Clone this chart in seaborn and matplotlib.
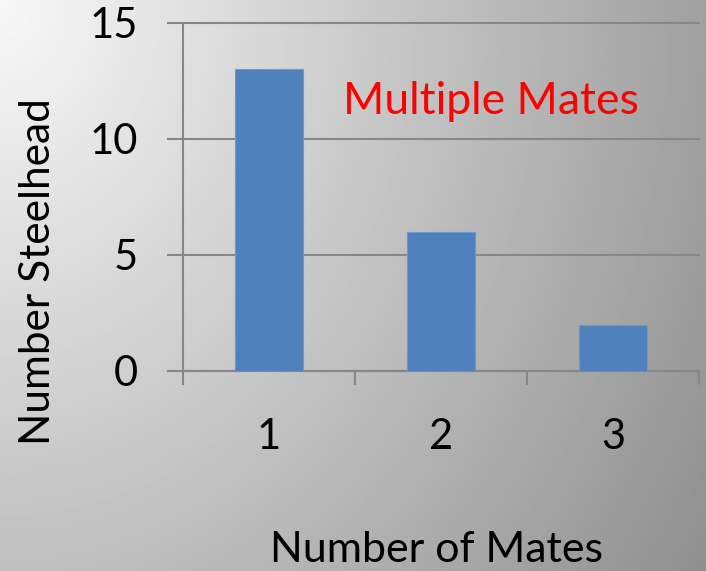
import numpy as np
import pandas as pd
import matplotlib
matplotlib.use("Agg")
import matplotlib.pyplot as plt
import seaborn as sns

# Counts of steelhead by number of mates
mates = ["1", "2", "3"]
steelhead = [13, 6, 2]
y_ticks = [0, 5, 10, 15]

sns.set_theme(style="white")
plt.rcParams["font.family"] = ["Lato", "DejaVu Sans"]

W, H, DPI = 706, 571, 100
fig = plt.figure(figsize=(W / DPI, H / DPI), dpi=DPI)

# Grey shaded backdrop: light in the upper left, darker toward the right
bg = fig.add_axes([0, 0, 1, 1], zorder=-10)
xx, yy = np.meshgrid(np.linspace(0, 1, 400), np.linspace(0, 1, 320))
r = np.sqrt(xx ** 2 + (yy * 0.65) ** 2)
shade = (248 - 88 * r) / 255.0
bg.imshow(shade, cmap="gray", vmin=0, vmax=1, aspect="auto",
          extent=[0, 1, 1, 0], interpolation="bilinear")
bg.set_xlim(0, 1)
bg.set_ylim(1, 0)
bg.axis("off")

ax = fig.add_axes([183 / W, 1 - 371 / H, (699 - 183) / W, (371 - 23) / H])
ax.patch.set_alpha(0)

df = pd.DataFrame({"mates": mates, "steelhead": steelhead})
sns.barplot(data=df, x="mates", y="steelhead", color="#4f81bd",
            width=0.4, saturation=1, edgecolor="#6f98cc", linewidth=0.8,
            ax=ax, zorder=3)

grey = "#878787"
ax.set_xlim(-0.5, 2.5)
ax.set_ylim(0, 15)
ax.set_yticks(y_ticks)
ax.set_yticklabels([str(t) for t in y_ticks])
ax.yaxis.grid(True, color=grey, linewidth=1.5)
for gl in ax.get_ygridlines():
    gl.set_clip_on(False)
ax.set_axisbelow(True)

for side in ("top", "right"):
    ax.spines[side].set_visible(False)
for side in ("left", "bottom"):
    ax.spines[side].set_color(grey)
    ax.spines[side].set_linewidth(1.5)

ax.tick_params(axis="y", which="major", direction="out", length=11.5,
               width=1.5, color=grey, pad=21, labelsize=30, labelcolor="black",
               left=True)
ax.tick_params(axis="x", which="major", length=0, pad=34,
               labelsize=30, labelcolor="black")
ax.set_xticks([-0.5, 0.5, 1.5, 2.5], minor=True)
ax.tick_params(axis="x", which="minor", direction="out", length=10,
               width=1.5, color=grey, bottom=True)

ax.set_xlabel("")
ax.set_ylabel("")

ax.text(1.29, 11.6, "Multiple Mates", color="#ff0000", fontsize=32,
        ha="center", va="center", zorder=5)

fig.text(437 / W, 9 / H, "Number of Mates", fontsize=31, ha="center",
         va="baseline", color="black")
fig.text(38 / W, 1 - 272 / H, "Number Steelhead", fontsize=30.5, ha="center",
         va="center", rotation=90, color="black")

fig.savefig("out.png", dpi=DPI)
